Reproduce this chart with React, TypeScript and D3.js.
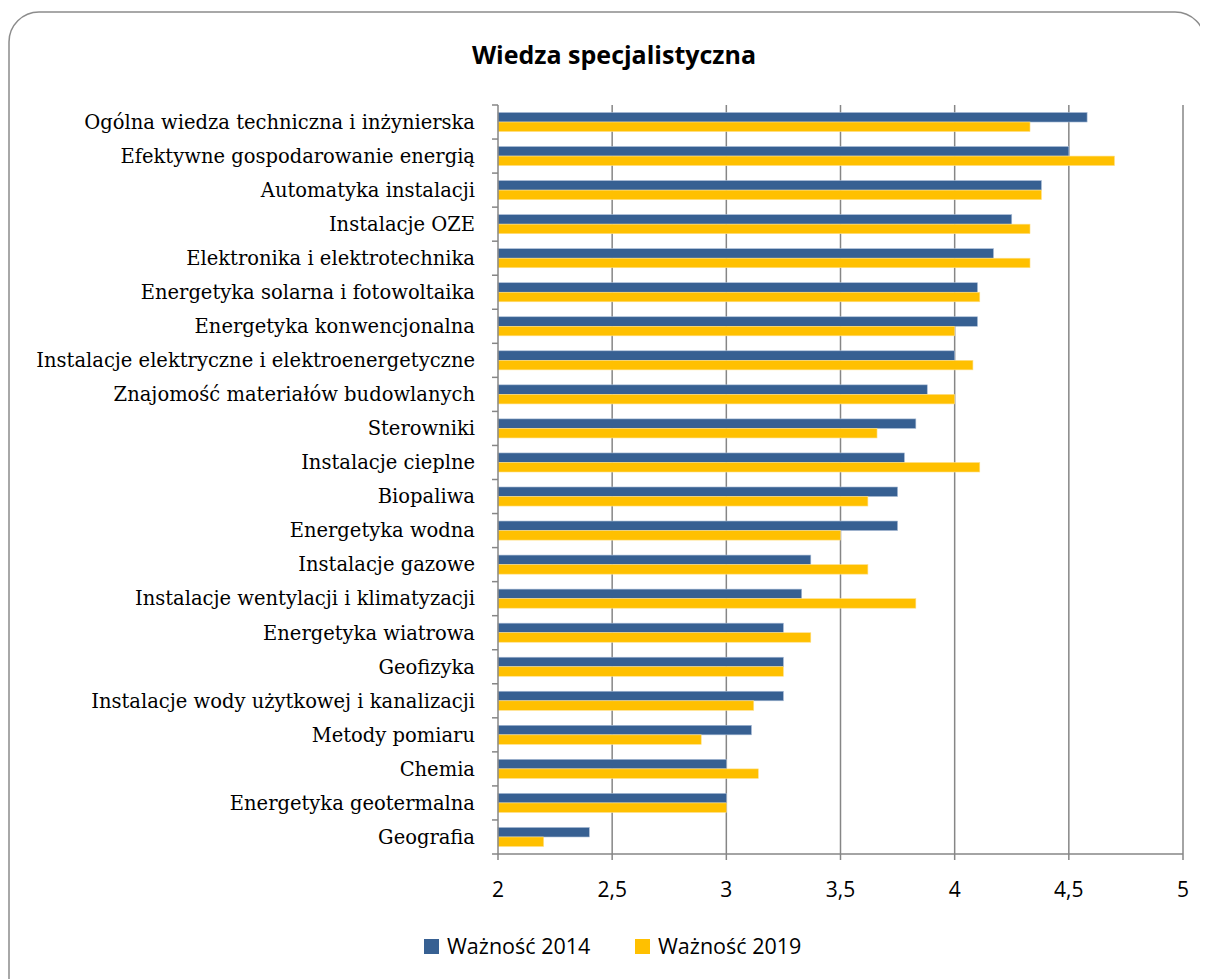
import React, { useEffect, useRef } from "react";
import * as d3 from "d3";

const categories = [
  "Ogólna wiedza techniczna i inżynierska",
  "Efektywne gospodarowanie energią",
  "Automatyka instalacji",
  "Instalacje OZE",
  "Elektronika i elektrotechnika",
  "Energetyka solarna i fotowoltaika",
  "Energetyka konwencjonalna",
  "Instalacje elektryczne i elektroenergetyczne",
  "Znajomość materiałów budowlanych",
  "Sterowniki",
  "Instalacje cieplne",
  "Biopaliwa",
  "Energetyka wodna",
  "Instalacje gazowe",
  "Instalacje wentylacji i klimatyzacji",
  "Energetyka wiatrowa",
  "Geofizyka",
  "Instalacje wody użytkowej i kanalizacji",
  "Metody pomiaru",
  "Chemia",
  "Energetyka geotermalna",
  "Geografia",
];

const values2014 = [4.58, 4.5, 4.38, 4.25, 4.17, 4.1, 4.1, 4.0, 3.88, 3.83, 3.78, 3.75, 3.75, 3.37, 3.33, 3.25, 3.25, 3.25, 3.11, 3.0, 3.0, 2.4];
const values2019 = [4.33, 4.7, 4.38, 4.33, 4.33, 4.11, 4.0, 4.08, 4.0, 3.66, 4.11, 3.62, 3.5, 3.62, 3.83, 3.37, 3.25, 3.12, 2.89, 3.14, 3.0, 2.2];

const seriesNames = ["Ważność 2014", "Ważność 2019"];
const seriesColors = ["#376092", "#FFC000"];
const xTicks = [2, 2.5, 3, 3.5, 4, 4.5, 5];
const title = "Wiedza specjalistyczna";

export default function App() {
  const ref = useRef<SVGSVGElement | null>(null);

  useEffect(() => {
    const svg = d3.select(ref.current);
    svg.selectAll("*").remove();
    const root = svg.append("g").attr("transform", "translate(-8,-8)");

    // frame
    root
      .append("rect")
      .attr("x", 9)
      .attr("y", 12)
      .attr("width", 1196)
      .attr("height", 1000)
      .attr("rx", 30)
      .attr("ry", 30)
      .attr("fill", "white")
      .attr("stroke", "#8c8c8c")
      .attr("stroke-width", 1.5);

    root
      .append("text")
      .attr("x", 614)
      .attr("y", 64)
      .attr("text-anchor", "middle")
      .attr("font-family", "'Open Sans', sans-serif")
      .attr("font-weight", "bold")
      .attr("font-size", 25)
      .attr("fill", "#000")
      .text(title);

    const left = 498;
    const right = 1183;
    const top = 105;
    const bottom = 854;

    const x = d3.scaleLinear().domain([2, 5]).range([left, right]);
    const y = d3.scaleBand<string>().domain(categories).range([top, bottom]).paddingInner(0.44).paddingOuter(0.22);
    const sub = d3.scaleBand<number>().domain([0, 1]).range([0, y.bandwidth()]);

    // gridlines
    root
      .append("g")
      .selectAll("line")
      .data(xTicks.slice(1))
      .join("line")
      .attr("x1", (d) => x(d))
      .attr("x2", (d) => x(d))
      .attr("y1", top)
      .attr("y2", bottom)
      .attr("stroke", "#868686")
      .attr("stroke-width", 1.5);

    // bars
    const series = [values2014, values2019];
    series.forEach((vals, si) => {
      root
        .append("g")
        .selectAll("rect")
        .data(categories)
        .join("rect")
        .attr("x", x(2))
        .attr("y", (c) => (y(c) as number) + (sub(si) as number))
        .attr("width", (c, i) => x(vals[i]) - x(2))
        .attr("height", sub.bandwidth())
        .attr("fill", seriesColors[si])
        .attr("stroke", si === 0 ? "#a9bcd6" : "#ffe08a")
        .attr("stroke-width", 0.6);
    });

    // y axis
    const step = (bottom - top) / categories.length;
    root
      .append("line")
      .attr("x1", left)
      .attr("x2", left)
      .attr("y1", top)
      .attr("y2", bottom)
      .attr("stroke", "#868686")
      .attr("stroke-width", 1.5);
    root
      .append("g")
      .selectAll("line")
      .data(d3.range(categories.length + 1))
      .join("line")
      .attr("x1", left - 6)
      .attr("x2", left)
      .attr("y1", (i) => top + i * step)
      .attr("y2", (i) => top + i * step)
      .attr("stroke", "#868686")
      .attr("stroke-width", 1.5);

    // x axis
    root
      .append("line")
      .attr("x1", left)
      .attr("x2", right)
      .attr("y1", bottom)
      .attr("y2", bottom)
      .attr("stroke", "#868686")
      .attr("stroke-width", 1.5);
    root
      .append("g")
      .selectAll("line")
      .data(xTicks)
      .join("line")
      .attr("x1", (d) => x(d))
      .attr("x2", (d) => x(d))
      .attr("y1", bottom)
      .attr("y2", bottom + 6)
      .attr("stroke", "#868686")
      .attr("stroke-width", 1.5);

    const fmt = (d: number) => String(d).replace(".", ",");
    root
      .append("g")
      .selectAll("text")
      .data(xTicks)
      .join("text")
      .attr("x", (d) => x(d))
      .attr("y", 897)
      .attr("text-anchor", "middle")
      .attr("font-family", "'Open Sans', sans-serif")
      .attr("font-size", 21)
      .attr("fill", "#000")
      .text(fmt);

    // category labels
    root
      .append("g")
      .selectAll("text")
      .data(categories)
      .join("text")
      .attr("x", left - 23)
      .attr("y", (c) => (y(c) as number) + y.bandwidth() / 2)
      .attr("dy", "0.35em")
      .attr("text-anchor", "end")
      .attr("font-family", "'DejaVu Serif', serif")
      .attr("font-size", 19.5)
      .attr("fill", "#000")
      .text((c) => c);

    // legend
    const legendX = [424, 635];
    seriesNames.forEach((name, i) => {
      root
        .append("rect")
        .attr("x", legendX[i])
        .attr("y", 939)
        .attr("width", 15)
        .attr("height", 15)
        .attr("fill", seriesColors[i]);
      root
        .append("text")
        .attr("x", legendX[i] + 23)
        .attr("y", 954)
        .attr("font-family", "'Open Sans', sans-serif")
        .attr("font-size", 21.5)
        .attr("fill", "#000")
        .text(name);
    });
  }, []);

  return <svg ref={ref} width={1200} height={971} style={{ display: "block" }} />;
}
